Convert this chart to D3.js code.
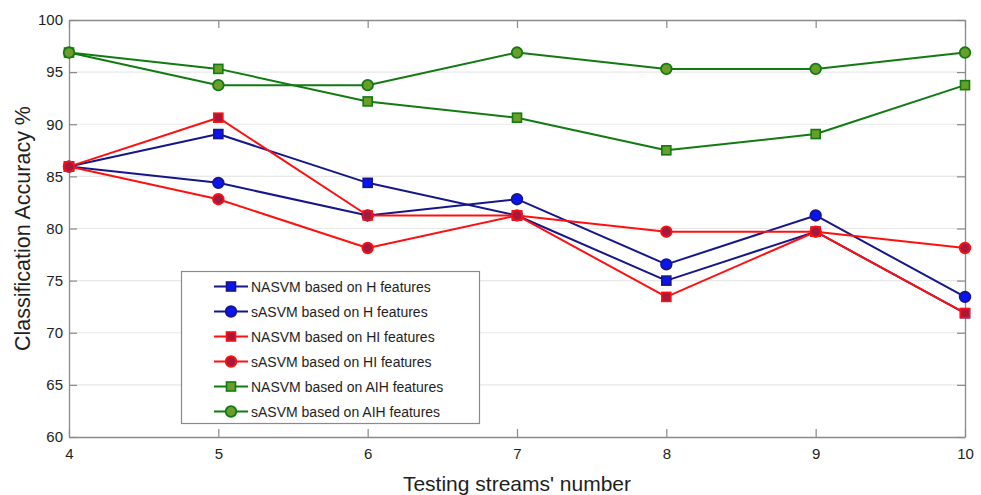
<!DOCTYPE html>
<html>
<head>
<meta charset="utf-8">
<script src="https://cdn.jsdelivr.net/npm/d3@7"></script>
<style>
  html, body { margin: 0; padding: 0; background: #fff; }
  svg { display: block; font-family: "Liberation Sans", Arial, Helvetica, sans-serif; }
</style>
</head>
<body>
<svg id="chart" width="981" height="495"></svg>
<script>
// Testing stream counts on the x axis
const streams = [4, 5, 6, 7, 8, 9, 10];
const yTicks = [60, 65, 70, 75, 80, 85, 90, 95, 100];

// Classification accuracy (%) per classifier / feature set
const nasvmH   = [85.94, 89.06, 84.38, 81.25, 75.00, 79.69, 71.88];
const sasvmH   = [85.94, 84.38, 81.25, 82.81, 76.56, 81.25, 73.44];
const nasvmHI  = [85.94, 90.63, 81.25, 81.25, 73.44, 79.69, 71.88];
const sasvmHI  = [85.94, 82.81, 78.13, 81.25, 79.69, 79.69, 78.13];
const nasvmAIH = [96.88, 95.31, 92.19, 90.63, 87.50, 89.06, 93.75];
const sasvmAIH = [96.88, 93.75, 93.75, 96.88, 95.31, 95.31, 96.88];

const seriesNames = [
  "NASVM based on H features",
  "sASVM based on H features",
  "NASVM based on HI features",
  "sASVM based on HI features",
  "NASVM based on AIH features",
  "sASVM based on AIH features"
];

const styles = [
  { line: "#16168a", fill: "#0a14f0", stroke: "#16168a", shape: "square" },
  { line: "#16168a", fill: "#0a14f0", stroke: "#16168a", shape: "circle" },
  { line: "#ff1010", fill: "#a8183c", stroke: "#ff1010", shape: "square" },
  { line: "#ff1010", fill: "#a8183c", stroke: "#ff1010", shape: "circle" },
  { line: "#127a12", fill: "#6a9e2a", stroke: "#127a12", shape: "square" },
  { line: "#127a12", fill: "#6a9e2a", stroke: "#127a12", shape: "circle" }
];

const allValues = [nasvmH, sasvmH, nasvmHI, sasvmHI, nasvmAIH, sasvmAIH];
const series = seriesNames.map((name, i) => ({ name, values: allValues[i], style: styles[i] }));

const svg = d3.select("#chart");
const margin = { left: 69, right: 16, top: 20, bottom: 58 };
const W = 981, H = 495;
const x = d3.scaleLinear().domain([4, 10]).range([margin.left, W - margin.right]);
const y = d3.scaleLinear().domain([60, 100]).range([H - margin.bottom, margin.top]);

const axisColor = "#8a8a8a";
const textColor = "#1e1e1e";

// horizontal gridlines
svg.append("g")
  .selectAll("line")
  .data(yTicks.slice(1, -1))
  .join("line")
  .attr("x1", x(4)).attr("x2", x(10))
  .attr("y1", d => y(d)).attr("y2", d => y(d))
  .attr("stroke", "#e8e8e8").attr("stroke-width", 1.2);

// axes with inward ticks on all four sides
function styleAxis(g) {
  g.select(".domain").attr("stroke", axisColor).attr("stroke-width", 1.3);
  g.selectAll(".tick line").attr("stroke", axisColor).attr("stroke-width", 1.2);
  g.selectAll(".tick text").attr("fill", textColor).style("font-size", "15px");
}
const tickLen = 8;
svg.append("g")
  .attr("transform", `translate(0,${y(60)})`)
  .call(d3.axisBottom(x).tickValues(streams).tickFormat(d3.format("d")).tickSizeInner(-tickLen).tickSizeOuter(0).tickPadding(11))
  .call(styleAxis);
svg.append("g")
  .attr("transform", `translate(0,${y(100)})`)
  .call(d3.axisTop(x).tickValues(streams).tickFormat("").tickSizeInner(-tickLen).tickSizeOuter(0))
  .call(styleAxis);
svg.append("g")
  .attr("transform", `translate(${x(4)},0)`)
  .call(d3.axisLeft(y).tickValues(yTicks).tickFormat(d3.format("d")).tickSizeInner(-tickLen).tickSizeOuter(0).tickPadding(6))
  .call(styleAxis);
svg.append("g")
  .attr("transform", `translate(${x(10)},0)`)
  .call(d3.axisRight(y).tickValues(yTicks).tickFormat("").tickSizeInner(-tickLen).tickSizeOuter(0))
  .call(styleAxis);

// series lines and markers
const line = d3.line().x((d, i) => x(streams[i])).y(d => y(d));
function drawMarker(g, shape, st, cx, cy) {
  if (shape === "square") {
    g.append("rect")
      .attr("x", cx - 4.5).attr("y", cy - 4.5)
      .attr("width", 9).attr("height", 9)
      .attr("fill", st.fill).attr("stroke", st.stroke).attr("stroke-width", 1.6);
  } else {
    g.append("circle")
      .attr("cx", cx).attr("cy", cy).attr("r", 5.3)
      .attr("fill", st.fill).attr("stroke", st.stroke).attr("stroke-width", 1.8);
  }
}

series.forEach(s => {
  const g = svg.append("g");
  g.append("path")
    .datum(s.values)
    .attr("d", line)
    .attr("fill", "none")
    .attr("stroke", s.style.line)
    .attr("stroke-width", 2)
    .attr("stroke-linejoin", "round");
  s.values.forEach((v, i) => drawMarker(g, s.style.shape, s.style, x(streams[i]), y(v)));
});

// legend
const legend = svg.append("g");
legend.append("rect")
  .attr("x", 181.5).attr("y", 271.5)
  .attr("width", 298).attr("height", 152)
  .attr("fill", "#fff").attr("stroke", "#8a8a8a").attr("stroke-width", 1.2);
series.forEach((s, i) => {
  const ly = 286.5 + i * 25;
  const g = legend.append("g");
  g.append("line")
    .attr("x1", 214).attr("x2", 248).attr("y1", ly).attr("y2", ly)
    .attr("stroke", s.style.line).attr("stroke-width", 2);
  drawMarker(g, s.style.shape, s.style, 231, ly);
  g.append("text")
    .attr("x", 251).attr("y", ly)
    .attr("dy", "0.36em")
    .attr("fill", textColor)
    .style("font-size", "14px")
    .text(s.name);
});

// axis titles
svg.append("text")
  .attr("x", (x(4) + x(10)) / 2).attr("y", 491)
  .attr("text-anchor", "middle")
  .attr("fill", textColor)
  .style("font-size", "21px")
  .text("Testing streams' number");
svg.append("text")
  .attr("transform", `translate(30,${(y(60) + y(100)) / 2}) rotate(-90)`)
  .attr("text-anchor", "middle")
  .attr("fill", textColor)
  .style("font-size", "21.5px")
  .text("Classification Accuracy %");
</script>
</body>
</html>
